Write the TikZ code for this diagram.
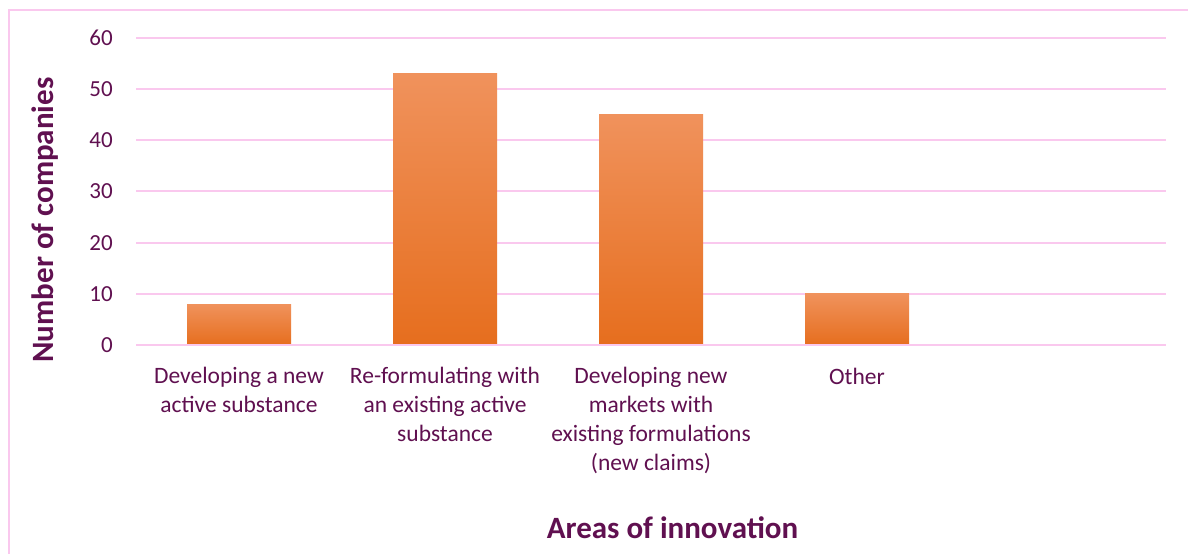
\documentclass[tikz,border=0pt]{standalone}
\usepackage{fontspec}
\setmainfont{Carlito}
\definecolor{txt}{RGB}{96,16,80}
\definecolor{grid}{RGB}{250,200,238}
\definecolor{bartop}{RGB}{240,146,92}
\definecolor{barmid}{RGB}{246,131,45}
\definecolor{barbot}{RGB}{230,110,30}
\tikzset{
  gridline/.style={draw=grid, line width=2pt},
  frameline/.style={draw=grid, line width=2pt},
  bar/.style={top color=bartop, middle color=barmid, bottom color=barbot, draw=none},
  tick/.style={text=txt, font=\fontsize{23}{28}\selectfont, anchor=east, inner sep=0pt},
  catlabel/.style={text=txt, font=\fontsize{23.5}{29.3}\selectfont, align=center, anchor=north, inner sep=0pt,
    execute at begin node={\rule{0pt}{18pt}}},
  axtitle/.style={text=txt, font=\fontsize{31}{36}\selectfont\bfseries, inner sep=0pt, anchor=base}
}
\begin{document}
\begin{tikzpicture}[x=1pt,y=-1pt]
\useasboundingbox (0,0) rectangle (1188,554);
\fill[white] (0,0) rectangle (1188,554);
% frame
\draw[frameline] (8.5,554) -- (8.5,9.5) -- (1188,9.5);
% gridlines
\foreach \v in {0,10,...,60} {
  \draw[gridline] (136,{345-\v*5.117}) -- (1166,{345-\v*5.117});
  \node[tick] (t\v) at (113,{345-\v*5.117}) {\v};
}
% bars
\path[bar] (187,345) rectangle (291,{345-8*5.117});
\path[bar] (393,345) rectangle (497,{345-53*5.117});
\path[bar] (599,345) rectangle (703,{345-45*5.117});
\path[bar] (805,345) rectangle (909,{345-10*5.117});
% gridline at 0 on top of bars
\draw[gridline] (136,345) -- (1166,345);
% category labels
\node[catlabel] (c1) at (239,366.5) {Developing a new\\active substance};
\node[catlabel] (c2) at (445,366.5) {Re-formulating with\\an existing active\\substance};
\node[catlabel] (c3) at (651,366.5) {Developing new\\markets with\\existing formulations\\(new claims)};
\node[catlabel] (c4) at (857,366.5) {Other};
% axis titles
\node[axtitle] (xt) at (672.5,538) {Areas of innovation};
\node[axtitle, rotate=90] (yt) at (53,220) {Number of companies};
\end{tikzpicture}
\end{document}
